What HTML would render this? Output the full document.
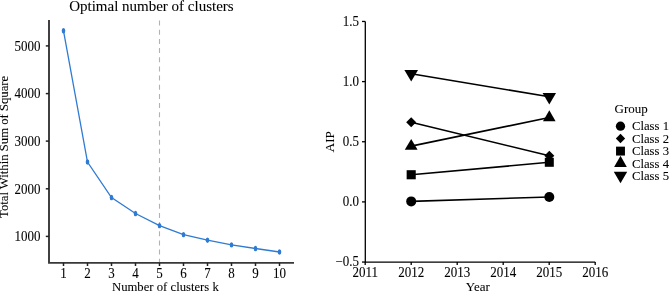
<!DOCTYPE html><html><head><meta charset="utf-8"><style>html,body{margin:0;padding:0;background:#fff;width:669px;height:292px;overflow:hidden}svg{display:block;will-change:transform}text{font-family:"Liberation Serif",serif;stroke:#000;stroke-width:0.08px}</style></head><body>
<svg width="669" height="292" viewBox="0 0 669 292">
<text transform="translate(151.40 10.80)" font-size="15" text-anchor="middle" fill="#000">Optimal number of clusters</text>
<line x1="159.5" y1="20.6" x2="159.5" y2="262" stroke="#b2b2b2" stroke-width="1.1" stroke-dasharray="5 4.16"/>
<path d="M49 20 V262.9 H294" fill="none" stroke="#383838" stroke-width="1.9"/>
<line x1="45.8" y1="45.9" x2="49" y2="45.9" stroke="#222" stroke-width="1.5"/>
<text transform="translate(40.50 50.60) scale(1 1.065)" font-size="13" text-anchor="end" fill="#000">5000</text>
<line x1="45.8" y1="93.6" x2="49" y2="93.6" stroke="#222" stroke-width="1.5"/>
<text transform="translate(40.50 98.30) scale(1 1.065)" font-size="13" text-anchor="end" fill="#000">4000</text>
<line x1="45.8" y1="141.1" x2="49" y2="141.1" stroke="#222" stroke-width="1.5"/>
<text transform="translate(40.50 145.80) scale(1 1.065)" font-size="13" text-anchor="end" fill="#000">3000</text>
<line x1="45.8" y1="188.8" x2="49" y2="188.8" stroke="#222" stroke-width="1.5"/>
<text transform="translate(40.50 193.50) scale(1 1.065)" font-size="13" text-anchor="end" fill="#000">2000</text>
<line x1="45.8" y1="236.4" x2="49" y2="236.4" stroke="#222" stroke-width="1.5"/>
<text transform="translate(40.50 241.10) scale(1 1.065)" font-size="13" text-anchor="end" fill="#000">1000</text>
<line x1="63.5" y1="262.9" x2="63.5" y2="266" stroke="#222" stroke-width="1.5"/>
<text transform="translate(63.50 278.30) scale(1 1.065)" font-size="13" text-anchor="middle" fill="#000">1</text>
<line x1="87.5" y1="262.9" x2="87.5" y2="266" stroke="#222" stroke-width="1.5"/>
<text transform="translate(87.50 278.30) scale(1 1.065)" font-size="13" text-anchor="middle" fill="#000">2</text>
<line x1="111.5" y1="262.9" x2="111.5" y2="266" stroke="#222" stroke-width="1.5"/>
<text transform="translate(111.50 278.30) scale(1 1.065)" font-size="13" text-anchor="middle" fill="#000">3</text>
<line x1="135.5" y1="262.9" x2="135.5" y2="266" stroke="#222" stroke-width="1.5"/>
<text transform="translate(135.50 278.30) scale(1 1.065)" font-size="13" text-anchor="middle" fill="#000">4</text>
<line x1="159.5" y1="262.9" x2="159.5" y2="266" stroke="#222" stroke-width="1.5"/>
<text transform="translate(159.50 278.30) scale(1 1.065)" font-size="13" text-anchor="middle" fill="#000">5</text>
<line x1="183.5" y1="262.9" x2="183.5" y2="266" stroke="#222" stroke-width="1.5"/>
<text transform="translate(183.50 278.30) scale(1 1.065)" font-size="13" text-anchor="middle" fill="#000">6</text>
<line x1="207.5" y1="262.9" x2="207.5" y2="266" stroke="#222" stroke-width="1.5"/>
<text transform="translate(207.50 278.30) scale(1 1.065)" font-size="13" text-anchor="middle" fill="#000">7</text>
<line x1="231.5" y1="262.9" x2="231.5" y2="266" stroke="#222" stroke-width="1.5"/>
<text transform="translate(231.50 278.30) scale(1 1.065)" font-size="13" text-anchor="middle" fill="#000">8</text>
<line x1="255.5" y1="262.9" x2="255.5" y2="266" stroke="#222" stroke-width="1.5"/>
<text transform="translate(255.50 278.30) scale(1 1.065)" font-size="13" text-anchor="middle" fill="#000">9</text>
<line x1="279.5" y1="262.9" x2="279.5" y2="266" stroke="#222" stroke-width="1.5"/>
<text transform="translate(279.50 278.30) scale(1 1.065)" font-size="13" text-anchor="middle" fill="#000">10</text>
<text transform="translate(165.40 290.70) scale(1 1.05)" font-size="12.7" text-anchor="middle" fill="#000">Number of clusters k</text>
<text transform="translate(7.70 146.90) rotate(-90)" font-size="12.7" text-anchor="middle" fill="#000">Total Within Sum of Square</text>
<polyline points="63.5,30.8 87.5,162 111.5,197.5 135.5,213.5 159.5,225.6 183.5,234.6 207.5,240.2 231.5,244.9 255.5,248.5 279.5,252.0" fill="none" stroke="#2f7bd3" stroke-width="1.3"/>
<ellipse cx="63.5" cy="30.8" rx="1.8" ry="2.7" fill="#2f7bd3"/>
<ellipse cx="87.5" cy="162" rx="1.8" ry="2.7" fill="#2f7bd3"/>
<ellipse cx="111.5" cy="197.5" rx="1.8" ry="2.7" fill="#2f7bd3"/>
<ellipse cx="135.5" cy="213.5" rx="1.8" ry="2.7" fill="#2f7bd3"/>
<ellipse cx="159.5" cy="225.6" rx="1.8" ry="2.7" fill="#2f7bd3"/>
<ellipse cx="183.5" cy="234.6" rx="1.8" ry="2.7" fill="#2f7bd3"/>
<ellipse cx="207.5" cy="240.2" rx="1.8" ry="2.7" fill="#2f7bd3"/>
<ellipse cx="231.5" cy="244.9" rx="1.8" ry="2.7" fill="#2f7bd3"/>
<ellipse cx="255.5" cy="248.5" rx="1.8" ry="2.7" fill="#2f7bd3"/>
<ellipse cx="279.5" cy="252.0" rx="1.8" ry="2.7" fill="#2f7bd3"/>
<path d="M365.3 21.45 V262.05 H595.2" fill="none" stroke="#000" stroke-width="1.3"/>
<line x1="362" y1="21.45" x2="365.3" y2="21.45" stroke="#000" stroke-width="1.3"/>
<text transform="translate(359.00 25.75) scale(1 1.065)" font-size="13" text-anchor="end" fill="#000">1.5</text>
<line x1="362" y1="81.60" x2="365.3" y2="81.60" stroke="#000" stroke-width="1.3"/>
<text transform="translate(359.00 85.90) scale(1 1.065)" font-size="13" text-anchor="end" fill="#000">1.0</text>
<line x1="362" y1="141.75" x2="365.3" y2="141.75" stroke="#000" stroke-width="1.3"/>
<text transform="translate(359.00 146.05) scale(1 1.065)" font-size="13" text-anchor="end" fill="#000">0.5</text>
<line x1="362" y1="201.90" x2="365.3" y2="201.90" stroke="#000" stroke-width="1.3"/>
<text transform="translate(359.00 206.20) scale(1 1.065)" font-size="13" text-anchor="end" fill="#000">0.0</text>
<line x1="362" y1="262.05" x2="365.3" y2="262.05" stroke="#000" stroke-width="1.3"/>
<text transform="translate(359.00 266.35) scale(1 1.065)" font-size="13" text-anchor="end" fill="#000">−0.5</text>
<line x1="365.20" y1="262" x2="365.20" y2="265" stroke="#000" stroke-width="1.3"/>
<text transform="translate(365.20 277.00) scale(1 1.04)" font-size="13" text-anchor="middle" fill="#000">2011</text>
<line x1="411.20" y1="262" x2="411.20" y2="265" stroke="#000" stroke-width="1.3"/>
<text transform="translate(411.20 277.00) scale(1 1.04)" font-size="13" text-anchor="middle" fill="#000">2012</text>
<line x1="457.20" y1="262" x2="457.20" y2="265" stroke="#000" stroke-width="1.3"/>
<text transform="translate(457.20 277.00) scale(1 1.04)" font-size="13" text-anchor="middle" fill="#000">2013</text>
<line x1="503.20" y1="262" x2="503.20" y2="265" stroke="#000" stroke-width="1.3"/>
<text transform="translate(503.20 277.00) scale(1 1.04)" font-size="13" text-anchor="middle" fill="#000">2014</text>
<line x1="549.20" y1="262" x2="549.20" y2="265" stroke="#000" stroke-width="1.3"/>
<text transform="translate(549.20 277.00) scale(1 1.04)" font-size="13" text-anchor="middle" fill="#000">2015</text>
<line x1="595.20" y1="262" x2="595.20" y2="265" stroke="#000" stroke-width="1.3"/>
<text transform="translate(595.20 277.00) scale(1 1.04)" font-size="13" text-anchor="middle" fill="#000">2016</text>
<text transform="translate(477.80 291.30)" font-size="13" text-anchor="middle" fill="#000">Year</text>
<text transform="translate(333.60 141.70) rotate(-90)" font-size="13" text-anchor="middle" fill="#000">AIP</text>
<line x1="411.2" y1="201.4" x2="549.3" y2="197.0" stroke="#000" stroke-width="1.6"/>
<line x1="411.2" y1="122.3" x2="549.3" y2="155.8" stroke="#000" stroke-width="1.6"/>
<line x1="411.2" y1="174.75" x2="549.3" y2="162.3" stroke="#000" stroke-width="1.6"/>
<line x1="411.2" y1="146.1" x2="549.3" y2="117.57" stroke="#000" stroke-width="1.6"/>
<line x1="411.2" y1="73.8" x2="549.3" y2="96.73" stroke="#000" stroke-width="1.6"/>
<circle cx="411.20" cy="201.40" r="5.00" fill="#000"/>
<circle cx="549.30" cy="197.00" r="5.00" fill="#000"/>
<polygon points="411.20,117.30 416.20,122.30 411.20,127.30 406.20,122.30" fill="#000"/>
<polygon points="549.30,150.80 554.30,155.80 549.30,160.80 544.30,155.80" fill="#000"/>
<rect x="406.65" y="170.20" width="9.10" height="9.10" fill="#000"/>
<rect x="544.80" y="157.80" width="9.00" height="9.00" fill="#000"/>
<polygon points="411.20,138.90 417.60,149.70 404.80,149.70" fill="#000"/>
<polygon points="549.30,110.30 555.60,121.20 543.00,121.20" fill="#000"/>
<polygon points="411.20,81.60 418.05,69.90 404.35,69.90" fill="#000"/>
<polygon points="549.30,104.40 556.05,92.90 542.55,92.90" fill="#000"/>
<text transform="translate(614.60 112.60) scale(1 1.03)" font-size="13" fill="#000">Group</text>
<circle cx="620.50" cy="126.20" r="4.65" fill="#000"/>
<polygon points="620.50,133.85 625.15,138.50 620.50,143.15 615.85,138.50" fill="#000"/>
<rect x="616.05" y="146.65" width="8.90" height="8.90" fill="#000"/>
<polygon points="620.50,155.80 626.85,166.90 614.15,166.90" fill="#000"/>
<polygon points="620.50,183.30 627.20,171.80 613.80,171.80" fill="#000"/>
<text transform="translate(632.00 130.40) scale(1 1.04)" font-size="12.7" fill="#000">Class 1</text>
<text transform="translate(632.00 142.90) scale(1 1.04)" font-size="12.7" fill="#000">Class 2</text>
<text transform="translate(632.00 155.40) scale(1 1.04)" font-size="12.7" fill="#000">Class 3</text>
<text transform="translate(632.00 167.90) scale(1 1.04)" font-size="12.7" fill="#000">Class 4</text>
<text transform="translate(632.00 180.40) scale(1 1.04)" font-size="12.7" fill="#000">Class 5</text>
</svg></body></html>
